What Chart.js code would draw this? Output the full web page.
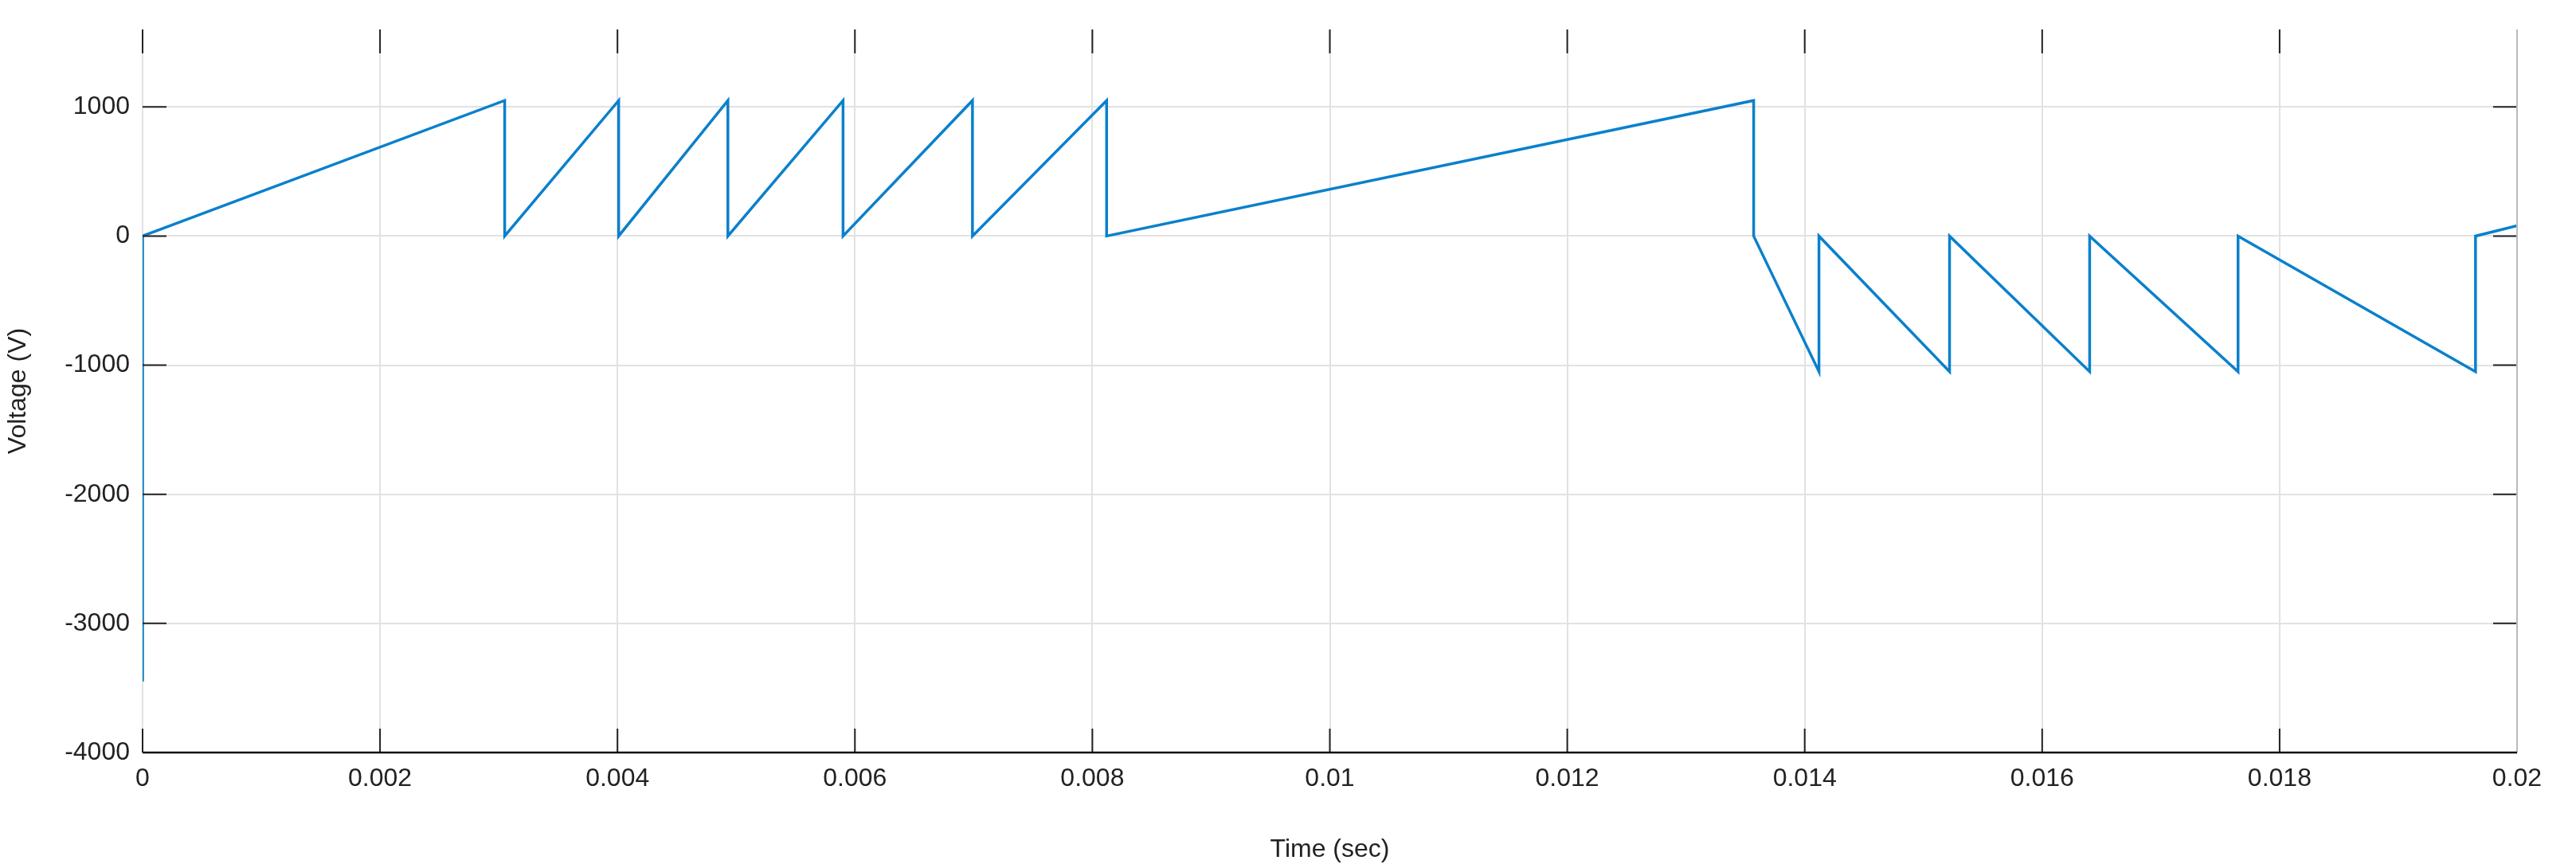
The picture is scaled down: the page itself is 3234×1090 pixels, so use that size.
<!DOCTYPE html>
<html>
<head>
<meta charset="utf-8">
<script src="https://cdn.jsdelivr.net/npm/chart.js@4.4.1/dist/chart.umd.min.js"></script>
<style>
  html, body { margin: 0; padding: 0; background: #fff; }
  canvas { display: block; }
</style>
</head>
<body>
<canvas id="grafico" width="3234" height="1090"></canvas>
<script>
// --- dados ---
const tempos = [0, 0, 0.00305, 0.00305, 0.00401, 0.00401, 0.00493, 0.00493, 0.0059, 0.0059,
  0.00699, 0.00699, 0.00812, 0.00812, 0.01357, 0.01357, 0.01412, 0.01412, 0.01522, 0.01522,
  0.0164, 0.0164, 0.01765, 0.01765, 0.01965, 0.01965, 0.02];
const tensoes = [-3450, 0, 1050, 0, 1050, 0, 1050, 0, 1050, 0,
  1050, 0, 1050, 0, 1050, 0, -1050, 0, -1050, 0,
  -1050, 0, -1050, 0, -1050, 0, 80];
const ticksX = [0, 0.002, 0.004, 0.006, 0.008, 0.01, 0.012, 0.014, 0.016, 0.018, 0.02];
const ticksY = [-4000, -3000, -2000, -1000, 0, 1000];

const fonte = { family: 'Arial, "Liberation Sans", sans-serif', size: 32 };

// marcas internas estilo MATLAB (topo, base, esquerda, direita)
const marcasInternas = {
  id: 'marcasInternas',
  afterDatasetsDraw(chart) {
    const { ctx, chartArea: a, scales } = chart;
    ctx.save();
    ctx.strokeStyle = '#222';
    ctx.lineWidth = 2;
    const L = 30;
    ticksX.forEach(v => {
      const x = scales.x.getPixelForValue(v);
      ctx.beginPath();
      ctx.moveTo(x, a.top); ctx.lineTo(x, a.top + L);
      ctx.moveTo(x, a.bottom); ctx.lineTo(x, a.bottom - L);
      ctx.stroke();
    });
    ticksY.forEach(v => {
      const y = scales.y.getPixelForValue(v);
      ctx.beginPath();
      ctx.moveTo(a.left, y); ctx.lineTo(a.left + L, y);
      ctx.moveTo(a.right, y); ctx.lineTo(a.right - L, y);
      ctx.stroke();
    });
    // borda direita cinza, base preta
    ctx.strokeStyle = '#bbb';
    ctx.beginPath(); ctx.moveTo(a.right, a.top); ctx.lineTo(a.right, a.bottom); ctx.stroke();
    ctx.strokeStyle = '#111';
    ctx.lineWidth = 2.5;
    ctx.beginPath(); ctx.moveTo(a.left, a.bottom); ctx.lineTo(a.right, a.bottom); ctx.stroke();
    ctx.restore();
  }
};

const pontos = tempos.map((t, i) => ({ x: t, y: tensoes[i] }));

new Chart(document.getElementById('grafico').getContext('2d'), {
  type: 'line',
  data: {
    datasets: [{
      data: pontos,
      borderColor: '#0a80cc',
      borderWidth: 3.5,
      pointRadius: 0,
      tension: 0,
      fill: false
    }]
  },
  options: {
    responsive: false,
    animation: false,
    layout: { padding: { top: 37, right: 74, left: 0, bottom: 0 } },
    plugins: { legend: { display: false }, tooltip: { enabled: false } },
    scales: {
      x: {
        type: 'linear',
        min: 0, max: 0.02,
        afterBuildTicks: s => { s.ticks = ticksX.map(v => ({ value: v })); },
        afterFit: s => { s.height = 1090 - 945; },
        ticks: { font: fonte, color: '#222', padding: 14, maxRotation: 0, callback: v => String(+v.toFixed(3)) },
        grid: { color: '#e2e2e2', lineWidth: 2, tickLength: 0, drawTicks: false },
        border: { display: false },
        title: { display: true, text: 'Time (sec)', font: fonte, color: '#222', padding: { top: 0 } }
      },
      y: {
        min: -4000, max: 1600,
        afterBuildTicks: s => { s.ticks = ticksY.map(v => ({ value: v })); },
        afterFit: s => { s.width = 179; },
        ticks: { font: fonte, color: '#222', padding: 16, callback: v => String(v) },
        grid: { color: '#e2e2e2', lineWidth: 2, drawTicks: false },
        border: { display: false },
        title: { display: true, text: 'Voltage (V)', font: fonte, color: '#222', padding: { bottom: 4 } }
      }
    }
  },
  plugins: [marcasInternas]
});
</script>
</body>
</html>
